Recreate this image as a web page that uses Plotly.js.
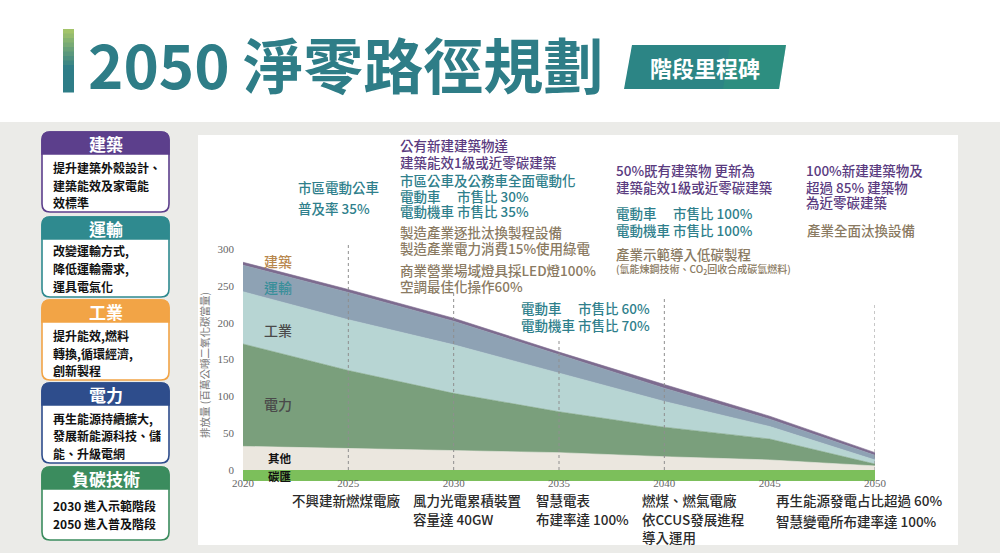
<!DOCTYPE html>
<html><head><meta charset="utf-8">
<script src="https://cdn.plot.ly/plotly-3.0.1.min.js"></script>
<style>html,body{margin:0;padding:0;background:#fff}#chart{width:1000px;height:553px}</style>
</head><body><div id="chart"></div>
<script>
// ---- data (million tonnes CO2e, stacked increments) ----
const years = [2020, 2025, 2030, 2035, 2040, 2045, 2050];
const sink = [-15, -15, -15, -15, -15, -15, -15];
const other = [32, 29, 27, 23.5, 18, 13.6, 5.5];
const power = [139, 106, 77, 55.5, 40, 28.4, 2.5];
const industry = [71, 69, 66, 53, 35, 17, 5.6];
const transport = [36, 37, 32, 24, 18, 10, 6.4];
const building = [4, 4, 4, 4, 5, 4, 3.5];
const yTicks = [0, 50, 100, 150, 200, 250, 300];
const xTickLabels = ['2020', '2025', '2030', '2035', '2040', '2045', '2050'];
const milestoneYears = [2025, 2030, 2035, 2040, 2050];
const seriesNames = ['碳匯', '其他', '電力', '工業', '運輸', '建築'];

// ---- helpers ----
const W = 1000, H = 553;
const X = p => p / W;
const Y = p => 1 - p / H;
const CJK = '"Noto Sans CJK TC", "Noto Sans CJK SC", sans-serif';
const PURPLE = '#5a3b7f', TEAL = '#2f7f8c', BROWN = '#8a7a62', DARK = '#2a2a2a';

const shapes = [];
const annotations = [];

function rect(x1, y1, x2, y2, fill, layer) {
  shapes.push({type: 'rect', xref: 'paper', yref: 'paper', x0: X(x1), x1: X(x2), y0: Y(y2), y1: Y(y1),
    fillcolor: fill, line: {width: 0}, layer: layer || 'below'});
}
function pathShape(d, fill, lineColor, lw, layer) {
  shapes.push({type: 'path', xref: 'paper', yref: 'paper', path: d, fillcolor: fill,
    line: {color: lineColor || fill, width: lw || 0}, layer: layer || 'below'});
}
function rr(x1, y1, x2, y2, r, topOnly) {
  const P = (x, y) => X(x).toFixed(5) + ',' + Y(y).toFixed(5);
  let d = 'M' + P(x1, y2 - (topOnly ? 0 : r));
  d += ' L' + P(x1, y1 + r) + ' Q' + P(x1, y1) + ' ' + P(x1 + r, y1);
  d += ' L' + P(x2 - r, y1) + ' Q' + P(x2, y1) + ' ' + P(x2, y1 + r);
  if (topOnly) {
    d += ' L' + P(x2, y2) + ' Z';
  } else {
    d += ' L' + P(x2, y2 - r) + ' Q' + P(x2, y2) + ' ' + P(x2 - r, y2);
    d += ' L' + P(x1 + r, y2) + ' Q' + P(x1, y2) + ' ' + P(x1, y2 - r) + ' Z';
  }
  return d;
}
function T(text, px, py, size, color, weight, anchor) {
  annotations.push({text: text, x: X(px), y: Y(py), xref: 'paper', yref: 'paper',
    xanchor: anchor || 'left', yanchor: 'middle', showarrow: false, borderpad: 0,
    font: {family: CJK, size: size, color: color, weight: weight || 500}});
}

// ---- background ----
rect(0, 122, 1000, 553, '#ebebe8');
rect(198, 135, 958, 545, '#ffffff');

// ---- title ----
const barTop = 29, barBot = 92, nSlices = 14;
const c0 = [163, 196, 106], c1 = [46, 125, 135];
for (let i = 0; i < nSlices; i++) {
  const t = i / (nSlices - 1);
  const col = 'rgb(' + c0.map((v, k) => Math.round(v + (c1[k] - v) * Math.min(1, t * 1.6))).join(',') + ')';
  rect(63, barTop + (barBot - barTop) * i / nSlices, 74, barTop + (barBot - barTop) * (i + 1) / nSlices + 0.5, col, 'above');
}
T('2050 淨零路徑規劃', 87, 62, 60, '#2e7d87', 'bold');
pathShape('M' + X(632) + ',' + Y(45) + ' L' + X(786) + ',' + Y(45) + ' L' + X(779) + ',' + Y(89) + ' L' + X(624) + ',' + Y(89) + ' Z', '#2c8585', null, 0, 'above');
pathShape('M' + X(730) + ',' + Y(45) + ' L' + X(786) + ',' + Y(45) + ' L' + X(779) + ',' + Y(89) + ' L' + X(723) + ',' + Y(89) + ' Z', 'rgba(50,160,120,0.35)', null, 0, 'above');
T('階段里程碑', 705, 67, 22, '#ffffff', 'bold', 'center');

// ---- left boxes ----
const boxes = [
  {title: '建築', color: '#5c3f8c', top: 132, hb: 154, bot: 212, lines: ['提升建築外殼設計、', '建築能效及家電能', '效標準'], ly: [167, 185, 202]},
  {title: '運輸', color: '#2f8a8f', top: 217, hb: 239, bot: 297, lines: ['改變運輸方式,', '降低運輸需求,', '運具電氣化'], ly: [251, 268, 286]},
  {title: '工業', color: '#f2a446', top: 300, hb: 322, bot: 380, lines: ['提升能效,燃料', '轉換,循環經濟,', '創新製程'], ly: [335, 353, 370]},
  {title: '電力', color: '#2e4d8c', top: 383, hb: 405, bot: 463, lines: ['再生能源持續擴大,', '發展新能源科技、儲', '能、升級電網'], ly: [418, 435, 453]},
  {title: '負碳技術', color: '#3b8c5e', top: 467, hb: 489, bot: 540, lines: ['2030 進入示範階段', '2050 進入普及階段'], ly: [505, 523]}
];
boxes.forEach(b => {
  pathShape(rr(42, b.top, 169, b.bot, 8, false), '#ffffff', b.color, 1.6, 'above');
  pathShape(rr(42, b.top, 169, b.hb, 8, true), b.color, b.color, 1.6, 'above');
  T(b.title, 105.5, (b.top + b.hb) / 2 + 0.5, 17, '#ffffff', 'bold', 'center');
  b.lines.forEach((l, i) => T(l, 52, b.ly[i], 12, '#111111', 'bold'));
});

// ---- milestone dotted lines ----
const lineTops = [242, 293, 338, 298, 302];
milestoneYears.forEach((yr, i) => {
  shapes.push({type: 'line', xref: 'x', yref: 'paper', x0: yr, x1: yr, y0: Y(470), y1: Y(lineTops[i]),
    line: {color: '#8f8f8f', width: 1, dash: 'dot'}, layer: 'above'});
});

// ---- series labels ----
T('建築', 263, 261, 14, '#b8874e', 500);
T('運輸', 263, 287, 14, '#3a8f9a', 500);
T('工業', 263, 330, 14, '#4a4a4a', 500);
T('電力', 263, 404, 14, '#4a4a4a', 500);
T('其他', 267, 458, 11.5, '#111111', 'bold');
T('碳匯', 267, 476, 11.5, '#111111', 'bold');

// ---- top annotations ----
const S = 13.5;
T('市區電動公車', 297, 187, S, TEAL);
T('普及率 35%', 297, 208, S, TEAL);
T('公有新建建築物達', 399, 145, S, PURPLE);
T('建築能效1級或近零碳建築', 399, 162, S, PURPLE);
T('市區公車及公務車全面電動化', 399, 180, S, TEAL);
T('電動車\u3000 市售比 30%', 399, 196, S, TEAL);
T('電動機車 市售比 35%', 399, 211, S, TEAL);
T('製造產業逐批汰換製程設備', 399, 232, S, BROWN);
T('製造產業電力消費15%使用綠電', 399, 248, S, BROWN);
T('商業營業場域燈具採LED燈100%', 399, 270, S, BROWN);
T('空調最佳化操作60%', 399, 286, S, BROWN);
T('50%既有建築物 更新為', 615, 170, S, PURPLE);
T('建築能效1級或近零碳建築', 615, 187, S, PURPLE);
T('電動車\u3000 市售比 100%', 615, 213, S, TEAL);
T('電動機車 市售比 100%', 615, 230, S, TEAL);
T('產業示範導入低碳製程', 615, 254, S, BROWN);
T('(氫能煉鋼技術、CO<sub>2</sub>回收合成碳氫燃料)', 615, 269, 10, BROWN);
T('100%新建建築物及', 805, 170, S, PURPLE);
T('超過 85% 建築物', 805, 187, S, PURPLE);
T('為近零碳建築', 805, 202, S, PURPLE);
T('產業全面汰換設備', 806, 230, S, BROWN);
T('電動車\u3000 市售比 60%', 520, 308, S, TEAL);
T('電動機車 市售比 70%', 520, 325, S, TEAL);

// ---- bottom annotations ----
T('不興建新燃煤電廠', 291, 500, S, DARK);
T('風力光電累積裝置', 412, 500, S, DARK);
T('容量達 40GW', 412, 519, S, DARK);
T('智慧電表', 535, 500, S, DARK);
T('布建率達 100%', 535, 519, S, DARK);
T('燃煤、燃氣電廠', 641, 500, S, DARK);
T('依CCUS發展進程', 641, 519, S, DARK);
T('導入運用', 641, 537, S, DARK);
T('再生能源發電占比超過 60%', 775, 500, S, DARK);
T('智慧變電所布建率達 100%', 775, 521, S, DARK);

// ---- traces ----
const colors = ['#7cbf5b', '#ebe7df', '#7a9f7c', '#b7d5d3', '#8ea2b4', '#7d6b8f'];
const stackData = [other, power, industry, transport, building];
const traces = [{
  x: years, y: sink, type: 'scatter', mode: 'lines', name: seriesNames[0],
  fill: 'tozeroy', fillcolor: colors[0], line: {width: 0, color: colors[0]}
}];
stackData.forEach((d, i) => {
  traces.push({x: years, y: d, type: 'scatter', mode: 'lines', name: seriesNames[i + 1],
    stackgroup: 'emis', fillcolor: colors[i + 1], line: {width: 0.6, color: colors[i + 1]}});
});

const tickFont = {family: '"Liberation Serif", "DejaVu Serif", serif', size: 11, color: '#666666'};
const layout = {
  width: W, height: H, margin: {l: 0, r: 0, t: 0, b: 0},
  paper_bgcolor: '#ffffff', plot_bgcolor: 'rgba(0,0,0,0)', showlegend: false,
  xaxis: {domain: [X(243), X(875)], range: [2020, 2050], tickvals: years, ticktext: xTickLabels,
    showgrid: false, zeroline: false, showline: false, ticks: '', tickfont: tickFont, ticklabelstandoff: -6, fixedrange: true},
  yaxis: {domain: [Y(481), Y(249)], range: [-15, 300], tickvals: yTicks, showgrid: false, zeroline: false, showline: false,
    ticks: '', tickfont: tickFont, ticklabelstandoff: 8, fixedrange: true,
    title: {text: '排放量 (百萬公噸二氧化碳當量)', font: {family: CJK, size: 10.5, color: '#777777'}, standoff: 5}},
  shapes: shapes, annotations: annotations
};
Plotly.newPlot('chart', traces, layout, {staticPlot: true, displayModeBar: false});
</script>
</body></html>
